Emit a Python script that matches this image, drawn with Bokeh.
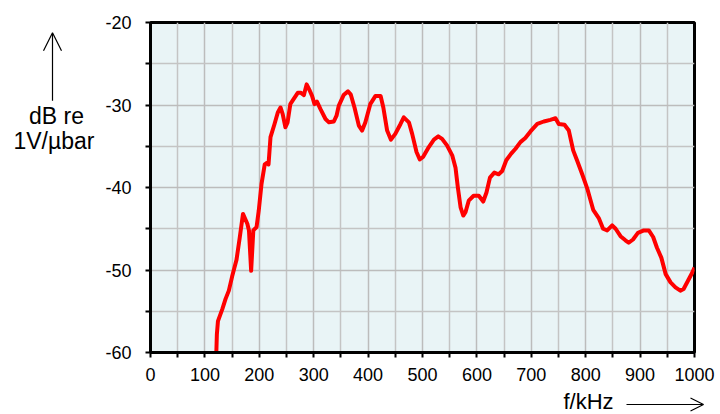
from bokeh.plotting import figure
from bokeh.layouts import column, row
from bokeh.models import FixedTicker, Arrow, OpenHead, Range1d
from bokeh.core.properties import value
from bokeh.embed import file_html
from bokeh.resources import INLINE

# ---- data ----
freq_khz = [121, 122, 124, 132, 138, 144, 150, 158, 164, 170, 178, 181, 185, 189, 195, 199,
            204, 210, 214.5, 217, 220.6, 228, 234, 239, 243, 248, 252, 257, 263, 271, 276,
            282, 287, 293, 297, 301.5, 306, 312.5, 321.7, 328, 337, 342, 346, 355, 363, 368,
            375, 383, 389, 395, 404, 413.6, 423, 428, 435, 442, 450, 459.6, 465.6, 475, 481,
            489, 495, 501, 511.6, 521, 529, 536, 545, 554.6, 560.7, 565, 570, 575, 579, 585,
            594, 603.5, 611.6, 617.6, 624, 632, 640, 646.5, 654, 663, 671, 680, 689, 698.5,
            711, 723, 735, 744.5, 750.5, 761, 769, 777, 784, 793.6, 802.7, 813.8, 824, 832,
            839.5, 848.7, 855, 864, 873, 879, 887, 896, 907, 916, 924, 931, 939, 947, 956,
            965, 974, 980, 988, 996, 1000]
level_db = [-60.0, -57.8, -56.2, -54.75, -53.5, -52.5, -50.8, -48.8, -46.1, -43.2, -44.4, -45.2,
            -50.1, -45.2, -44.8, -42.8, -39.6, -37.2, -37.0, -37.2, -33.9, -32.3, -30.9, -30.3,
            -31.1, -32.7, -32.1, -29.9, -29.3, -28.5, -28.5, -28.8, -27.5, -28.3, -28.9, -29.9,
            -29.6, -30.5, -31.7, -32.1, -32.0, -31.3, -30.1, -28.8, -28.35, -28.7, -30.3, -32.5,
            -33.1, -32.1, -29.9, -28.9, -28.9, -30.3, -33.1, -34.2, -33.5, -32.3, -31.5, -32.1,
            -33.5, -35.7, -36.6, -36.3, -35.1, -34.2, -33.8, -34.1, -34.9, -36.1, -37.6, -40.0,
            -42.4, -43.4, -43.0, -41.6, -41.0, -41.0, -41.7, -40.6, -38.8, -38.2, -38.4, -38.0,
            -36.7, -35.9, -35.3, -34.5, -34.0, -33.2, -32.3, -32.0, -31.8, -31.6, -32.3, -32.4,
            -33.1, -35.5, -36.7, -38.4, -40.1, -42.7, -43.7, -45.0, -45.2, -44.6, -45.0, -45.9,
            -46.4, -46.7, -46.3, -45.5, -45.2, -45.2, -46.0, -47.3, -48.5, -50.5, -51.5, -52.1,
            -52.5, -52.3, -51.3, -50.3, -49.7]

x_major = [0, 100, 200, 300, 400, 500, 600, 700, 800, 900, 1000]
x_minor = [50, 150, 250, 350, 450, 550, 650, 750, 850, 950]
y_major = [-60, -50, -40, -30, -20]
y_minor = [-55, -45, -35, -25]
y_label_lines = ["dB re", "1V/\u00b5bar"]
x_label = "f/kHz"

FONT = "Liberation Sans"
TOP_H = 388      # height of the upper row (label strip + chart)
LEFT_W = 100     # width of the y-title strip
BOTTOM_H = 26    # height of the x-title strip


def blank(width, height, xr, yr):
    f = figure(width=width, height=height, output_backend="svg", toolbar_location=None,
               x_range=Range1d(*xr), y_range=Range1d(*yr),
               x_axis_type=None, y_axis_type=None, min_border=0)
    f.outline_line_color = None
    f.background_fill_color = "white"
    f.border_fill_color = "white"
    return f


# ---- main chart ----
p = figure(width=720 - LEFT_W, height=TOP_H, output_backend="svg", toolbar_location=None,
           x_range=Range1d(0, 1000), y_range=Range1d(-60, -20))
p.min_border_left = 50
p.min_border_right = 26
p.min_border_top = 22
p.min_border_bottom = 36
p.background_fill_color = "#e9f4f6"
p.border_fill_color = "white"
p.outline_line_color = "black"
p.outline_line_width = 3

for ax, major, minor in ((p.xaxis[0], x_major, x_minor), (p.yaxis[0], y_major, y_minor)):
    ax.ticker = FixedTicker(ticks=major, minor_ticks=minor)
    ax.axis_line_color = "black"
    ax.axis_line_width = 3
    ax.major_tick_line_color = "black"
    ax.minor_tick_line_color = "black"
    ax.major_tick_line_width = 2
    ax.minor_tick_line_width = 2
    ax.major_tick_in = 0
    ax.minor_tick_in = 0
    ax.major_tick_out = 5
    ax.minor_tick_out = 5
    ax.major_label_text_font = FONT
    ax.major_label_text_font_size = "18px"
    ax.major_label_text_color = "black"
    ax.major_label_overrides = {v: str(v) for v in major}

p.yaxis[0].major_label_standoff = 14
p.xaxis[0].major_label_standoff = 10

for g in (p.xgrid[0], p.ygrid[0]):
    g.grid_line_color = "#bcbcbc"
    g.grid_line_width = 1.5
    g.minor_grid_line_color = "#c4c4c4"
    g.minor_grid_line_width = 1.5
p.xgrid[0].ticker = FixedTicker(ticks=x_major, minor_ticks=x_minor)
p.ygrid[0].ticker = FixedTicker(ticks=y_major, minor_ticks=y_minor)

p.line(freq_khz, level_db, line_color="red", line_width=4, line_join="round")

# ---- y title strip (coordinates in pixels, y upwards) ----
ly = blank(LEFT_W, TOP_H, (0, LEFT_W), (0, TOP_H))
ly.text(x=[56, 53.5], y=[TOP_H - 110, TOP_H - 139], text=y_label_lines, text_font=value(FONT),
        text_font_size=value("23px"), text_align="center", text_baseline="middle",
        text_color="black")
ly.add_layout(Arrow(x_start=52, y_start=TOP_H - 92, x_end=52, y_end=TOP_H - 12,
                    line_color="black", line_width=1.2,
                    end=OpenHead(size=18, line_color="black", line_width=1.2)))

# ---- x title strip ----
lx = blank(720, BOTTOM_H, (0, 720), (0, BOTTOM_H))
lx.text(x=[588], y=[13], text=[x_label], text_font=value(FONT),
        text_font_size=value("22px"), text_align="center", text_baseline="middle",
        text_color="black")
lx.add_layout(Arrow(x_start=626, y_start=10, x_end=703, y_end=10,
                    line_color="black", line_width=1.2,
                    end=OpenHead(size=13, line_color="black", line_width=1.2)))

page = column(row(ly, p, spacing=0), lx, spacing=0)

open("out.html", "w").write(file_html(page, INLINE))
